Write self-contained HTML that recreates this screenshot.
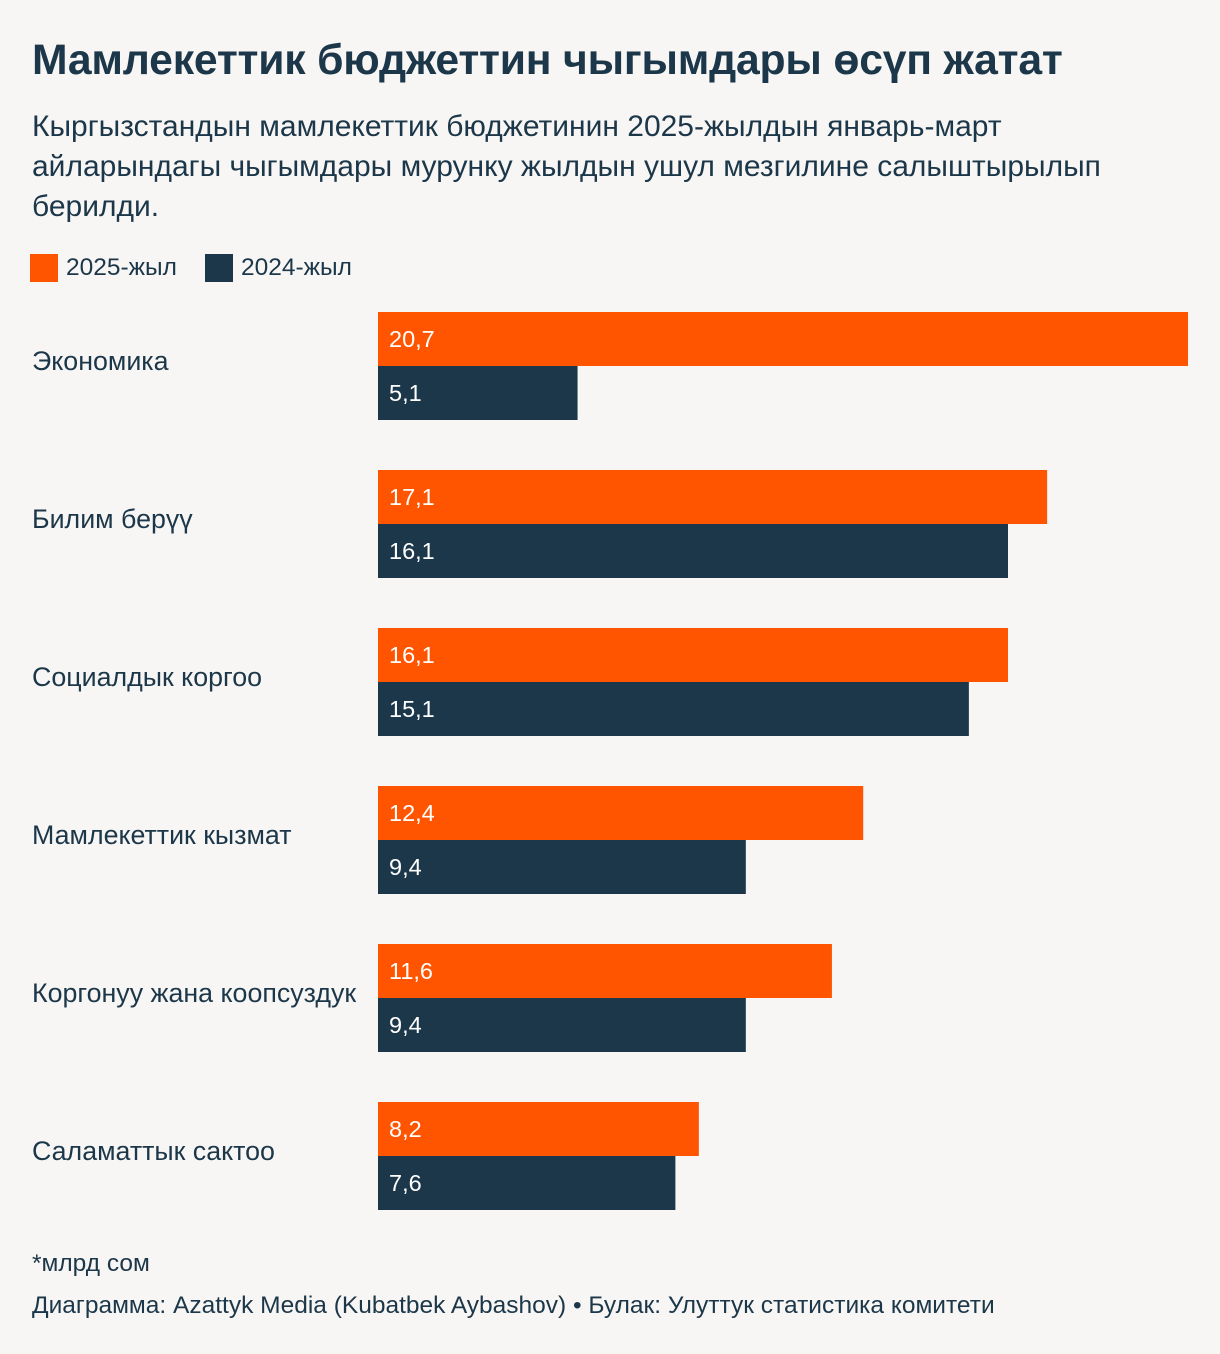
<!DOCTYPE html>
<html><head><meta charset="utf-8">
<style>
body{margin:0;background:#f8f6f4;font-family:"Liberation Sans",sans-serif;color:#1b3749;}
#wrap{position:relative;width:1220px;height:1354px;overflow:hidden;}
h1{position:absolute;left:32px;top:36px;margin:0;font-size:42.7px;font-weight:bold;letter-spacing:-0.2px;}
.sub{position:absolute;left:32px;top:107px;width:1140px;font-size:30px;line-height:40px;}
.leg{position:absolute;top:254px;font-size:24.5px;display:flex;align-items:center;}
.sw{width:28px;height:28px;margin-right:8px;}
.foot{position:absolute;left:32px;font-size:24.5px;}
</style></head><body>
<div id="wrap">
<h1>Мамлекеттик бюджеттин чыгымдары өсүп жатат</h1>
<div class="sub">Кыргызстандын мамлекеттик бюджетинин 2025-жылдын январь-март айларындагы чыгымдары мурунку жылдын ушул мезгилине салыштырылып берилди.</div>
<div class="leg" style="left:30px"><div class="sw" style="background:#ff5500"></div>2025-жыл</div>
<div class="leg" style="left:205px"><div class="sw" style="background:#1b3749"></div>2024-жыл</div>
<svg id="svg" width="1220" height="1354" style="position:absolute;left:0;top:0"></svg>
<div class="foot" style="top:1250px">*млрд сом</div>
<div class="foot" style="top:1292px">Диаграмма: Azattyk Media (Kubatbek Aybashov) • Булак: Улуттук статистика комитети</div>
</div>
<script>
const categories=["Экономика","Билим берүү","Социалдык коргоо","Мамлекеттик кызмат","Коргонуу жана коопсуздук","Саламаттык сактоо"];
const values2025=[20.7,17.1,16.1,12.4,11.6,8.2];
const values2024=[5.1,16.1,15.1,9.4,9.4,7.6];
const svg=document.getElementById('svg');
const NS="http://www.w3.org/2000/svg";
const x0=378,x1=1188,vmax=20.7;
const xs=v=>x0+(v/vmax)*(x1-x0);
const ys=i=>312+i*158;
const fmt=v=>v.toFixed(1).replace('.',',');
function add(tag,attrs,text){const e=document.createElementNS(NS,tag);for(const k in attrs)e.setAttribute(k,attrs[k]);if(text!=null)e.textContent=text;svg.appendChild(e);return e;}
categories.forEach((c,i)=>{
  const y=ys(i);
  const t=add('text',{x:32,y:y+58,'font-size':26.8,fill:'#1b3749','font-family':'Liberation Sans, sans-serif'},c);
  
  
  [[values2025[i],'#ff5500',0],[values2024[i],'#1b3749',54]].forEach(([v,col,off])=>{
    const r=add('rect',{x:x0,y:y+off,width:xs(v)-x0,height:54,fill:col});
    
    
    const l=add('text',{x:389,y:y+off+35,'font-size':23.5,fill:'#fff','font-family':'Liberation Sans, sans-serif'},fmt(v));
    
    
  });
});
</script>
</body></html>
